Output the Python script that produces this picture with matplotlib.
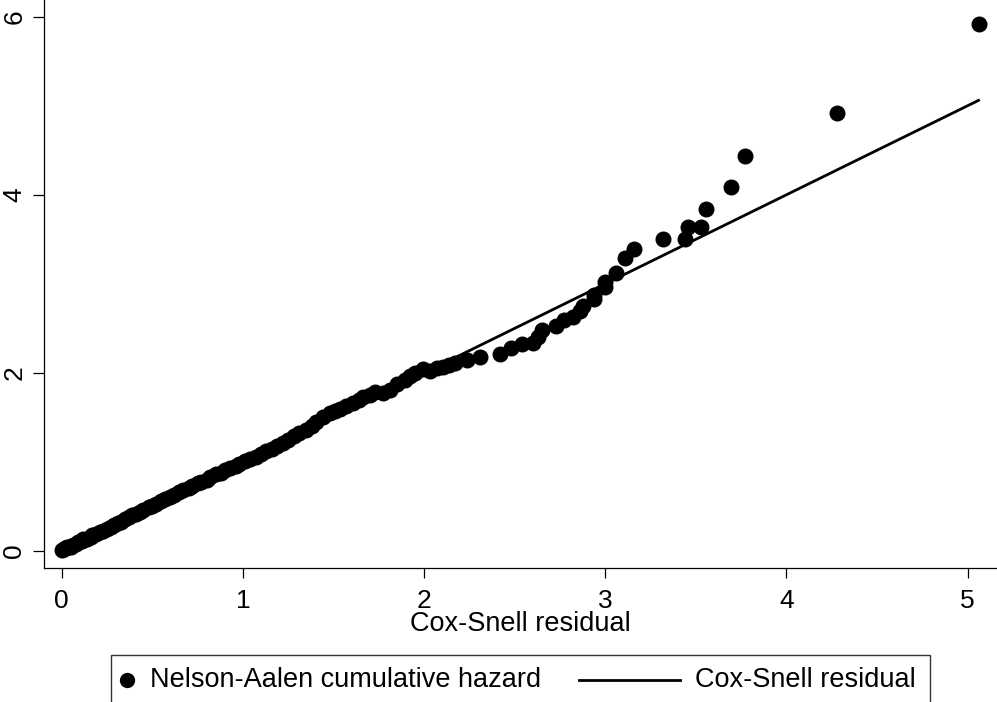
import numpy as np
import matplotlib
matplotlib.use('Agg')
from matplotlib import pyplot as plt
from matplotlib.lines import Line2D
from matplotlib.patches import Rectangle

plt.rcParams['font.family'] = ['Liberation Sans', 'DejaVu Sans']

# Cox-Snell residuals (x) and Nelson-Aalen cumulative hazard of them (y)
cs_resid = [0.00, 0.01, 0.02, 0.03, 0.04, 0.05, 0.06, 0.08, 0.09, 0.11,
            0.12, 0.14, 0.16, 0.17, 0.19, 0.21, 0.23, 0.25, 0.27, 0.29,
            0.31, 0.33, 0.35, 0.37, 0.39, 0.41, 0.43, 0.45, 0.48, 0.50,
            0.52, 0.55, 0.57, 0.60, 0.62, 0.65, 0.67, 0.70, 0.72, 0.75,
            0.77, 0.80, 0.82, 0.85, 0.88, 0.90, 0.93, 0.96, 0.98, 1.01,
            1.04, 1.07, 1.10, 1.13, 1.16, 1.19, 1.22, 1.25, 1.28, 1.31,
            1.35, 1.38, 1.405, 1.44, 1.48, 1.51, 1.535, 1.57, 1.61, 1.64,
            1.665, 1.70, 1.73, 1.775, 1.81, 1.85, 1.895, 1.92, 1.95, 1.995,
            2.03, 2.07, 2.106, 2.14, 2.17, 2.235, 2.31, 2.42, 2.48, 2.54,
            2.60, 2.63, 2.65, 2.73, 2.77, 2.82, 2.86, 2.878, 2.94, 2.94,
            3.00, 3.00, 3.059, 3.109, 3.158, 3.32, 3.44, 3.455, 3.528, 3.556,
            3.695, 3.77, 4.28, 5.06]
na_hazard = [0.01, 0.02, 0.03, 0.04, 0.05, 0.05, 0.07, 0.08, 0.10, 0.11,
             0.13, 0.14, 0.16, 0.18, 0.19, 0.21, 0.23, 0.25, 0.27, 0.29,
             0.31, 0.33, 0.36, 0.38, 0.40, 0.42, 0.44, 0.46, 0.49, 0.51,
             0.53, 0.56, 0.58, 0.61, 0.63, 0.66, 0.68, 0.71, 0.73, 0.76,
             0.78, 0.80, 0.83, 0.86, 0.88, 0.91, 0.93, 0.96, 0.98, 1.01,
             1.03, 1.06, 1.09, 1.12, 1.15, 1.18, 1.21, 1.25, 1.29, 1.33,
             1.36, 1.40, 1.45, 1.50, 1.55, 1.57, 1.60, 1.63, 1.66, 1.69,
             1.73, 1.75, 1.78, 1.77, 1.81, 1.88, 1.92, 1.96, 1.995, 2.04,
             2.025, 2.05, 2.07, 2.09, 2.11, 2.15, 2.18, 2.21, 2.28, 2.32,
             2.34, 2.40, 2.48, 2.53, 2.59, 2.63, 2.69, 2.75, 2.83, 2.875,
             2.96, 3.02, 3.118, 3.287, 3.395, 3.507, 3.507, 3.635, 3.635, 3.84,
             4.09, 4.43, 4.92, 5.92]

x_ticks = [0, 1, 2, 3, 4, 5]
y_ticks = [0, 2, 4, 6]

W, H = 997, 702
fig = plt.figure(figsize=(W/100, H/100), dpi=100)
ax = fig.add_axes([44.3/W, 1 - 567.7/H, 1 - 44.3/W, 567.7/H])

ax.plot(cs_resid, na_hazard, 'o', color='k', ms=10.5, mec='k')
ax.plot(cs_resid, cs_resid, '-', color='k', lw=2)

ax.set_xlim(-0.096, 5.162)
ax.set_ylim(-0.1875, 6.187)
ax.set_xticks(x_ticks)
ax.set_yticks(y_ticks)
ax.spines['top'].set_visible(False)
ax.spines['right'].set_visible(False)
for s in ['left', 'bottom']:
    ax.spines[s].set_linewidth(0.9)
ax.tick_params(axis='x', length=7, width=0.9, pad=8, labelsize=19)
ax.tick_params(axis='y', length=8, width=0.9, pad=5, labelsize=19)
plt.setp(ax.get_yticklabels(), rotation=90, va='center')
ax.set_xlabel('Cox-Snell residual', fontsize=19.5, labelpad=-1)

# legend box along the bottom
yl = 1 - 680/H
fig.patches.append(Rectangle((110.7/W, -0.02), (930 - 110.7)/W, 0.02 + (H - 655)/H,
                             transform=fig.transFigure, fill=False,
                             lw=1, ec='#333333'))
fig.lines.append(Line2D([127.3/W], [yl], marker='o', ms=10, color='k',
                        transform=fig.transFigure))
fig.text(150/W, yl, 'Nelson-Aalen cumulative hazard', fontsize=19.5, va='center')
fig.lines.append(Line2D([579.3/W, 680/W], [yl, yl], color='k', lw=2,
                        transform=fig.transFigure))
fig.text(695/W, yl, 'Cox-Snell residual', fontsize=19.5, va='center')

fig.savefig('out.png', dpi=100)
